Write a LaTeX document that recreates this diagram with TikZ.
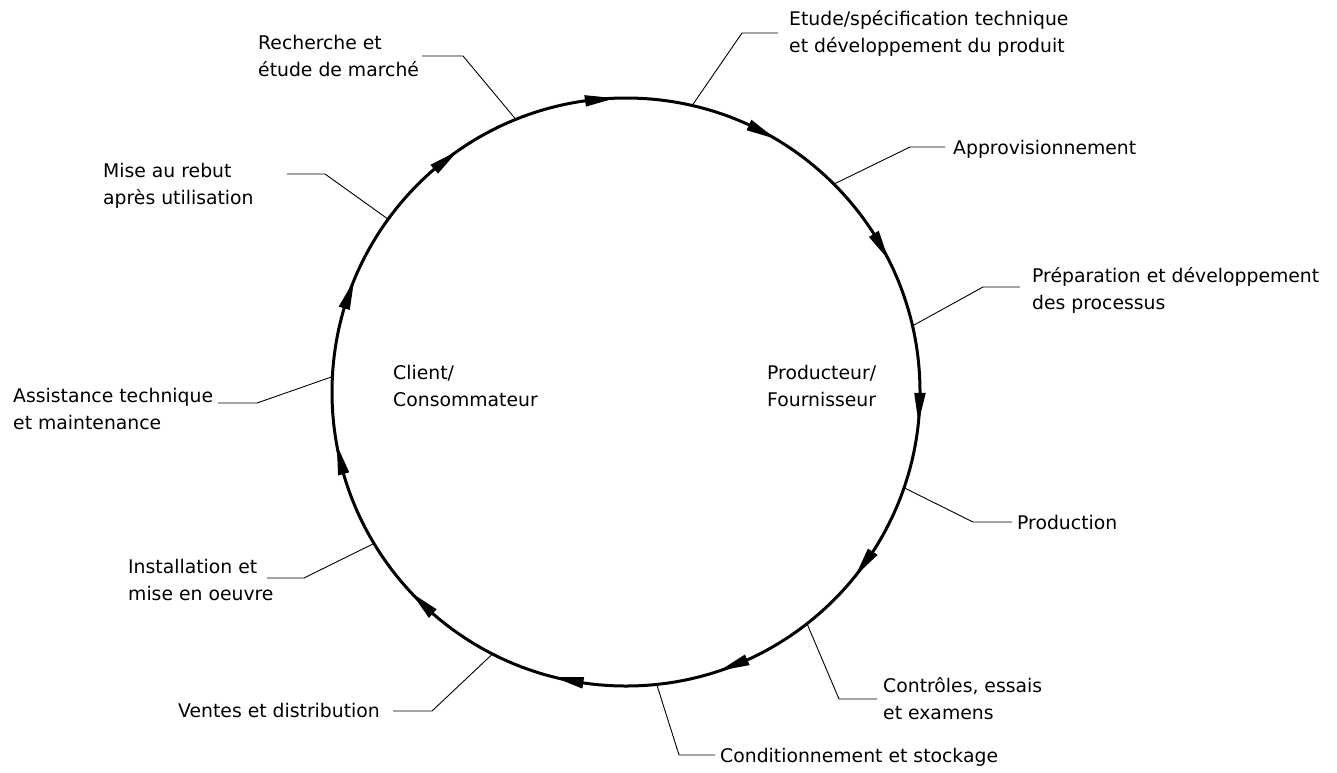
\documentclass[tikz,border=0pt]{standalone}
\usepackage{fontspec}
\setmainfont{DejaVu Sans}
\begin{document}
\begin{tikzpicture}[x=1pt,y=-1pt,
  lbl/.style={font=\fontsize{18.8}{27}\selectfont, align=left, anchor=base west, inner sep=0pt},
  leader/.style={line width=0.9pt, line join=round},
  cyc/.style={circle, draw, line width=3pt, minimum size=588pt, inner sep=0pt, outer sep=0pt},
  head/.style={fill=black}]
\useasboundingbox (0,0) rectangle (1337,772);
\node[cyc] (c) at (626,392) {};
% arrowheads (clockwise)
\begin{scope}[shift={(c.center)}]
\foreach \k in {0,...,10}{
  \pgfmathsetmacro\t{-(92.2-32.7273*\k)}
  \fill[head] (\t:294) -- ({\t-5.8}:299.8) -- ({\t-5.8}:288.2) -- cycle;
}
\end{scope}
% labels (anchor = baseline of last line)
\node[lbl] (t1) at (258,76) {Recherche et\\étude de marché};
\node[lbl] (t2) at (789,52) {Etude/spécification technique\\et développement du produit};
\node[lbl] (t3) at (953,154) {Approvisionnement};
\node[lbl] (t4) at (1032,309) {Préparation et développement\\des processus};
\node[lbl] (t5) at (1017,529) {Production};
\node[lbl] (t6) at (883,719) {Contrôles, essais\\et examens};
\node[lbl] (t7) at (720,762) {Conditionnement et stockage};
\node[lbl] (t8) at (178,717) {Ventes et distribution};
\node[lbl] (t9) at (128,600) {Installation et\\mise en oeuvre};
\node[lbl] (t10) at (13,429) {Assistance technique\\et maintenance};
\node[lbl] (t11) at (103,204) {Mise au rebut\\après utilisation};
\node[lbl] (t12) at (393,406) {Client/\\Consommateur};
\node[lbl] (t13) at (767,406) {Producteur/\\Fournisseur};
% leader bends and ends
\coordinate (b1) at (463,56);  \coordinate (e1) at (422,56);
\coordinate (b2) at (742,33);  \coordinate (e2) at (778,33);
\coordinate (b3) at (910,147); \coordinate (e3) at (945,147);
\coordinate (b4) at (983,287); \coordinate (e4) at (1020,287);
\coordinate (b5) at (973,522); \coordinate (e5) at (1012,522);
\coordinate (b6) at (839,699); \coordinate (e6) at (877,699);
\coordinate (b7) at (679,755); \coordinate (e7) at (715,755);
\coordinate (b8) at (432,711); \coordinate (e8) at (393,711);
\coordinate (b9) at (304,578); \coordinate (e9) at (267,578);
\coordinate (b10) at (257,403); \coordinate (e10) at (218,403);
\coordinate (b11) at (325,174); \coordinate (e11) at (287,174);
\draw[leader] (c.112.3) -- (b1) -- (e1);
\draw[leader] (c.77.6) -- (b2) -- (e2);
\draw[leader] (c.45.4) -- (b3) -- (e3);
\draw[leader] (c.13.1) -- (b4) -- (e4);
\draw[leader] (c.-19.9) -- (b5) -- (e5);
\draw[leader] (c.-52.7) -- (b6) -- (e6);
\draw[leader] (c.-84.8) -- (b7) -- (e7);
\draw[leader] (c.-117.2) -- (b8) -- (e8);
\draw[leader] (c.-149.8) -- (b9) -- (e9);
\draw[leader] (c.177.7) -- (b10) -- (e10);
\draw[leader] (c.144.5) -- (b11) -- (e11);
\end{tikzpicture}
\end{document}
